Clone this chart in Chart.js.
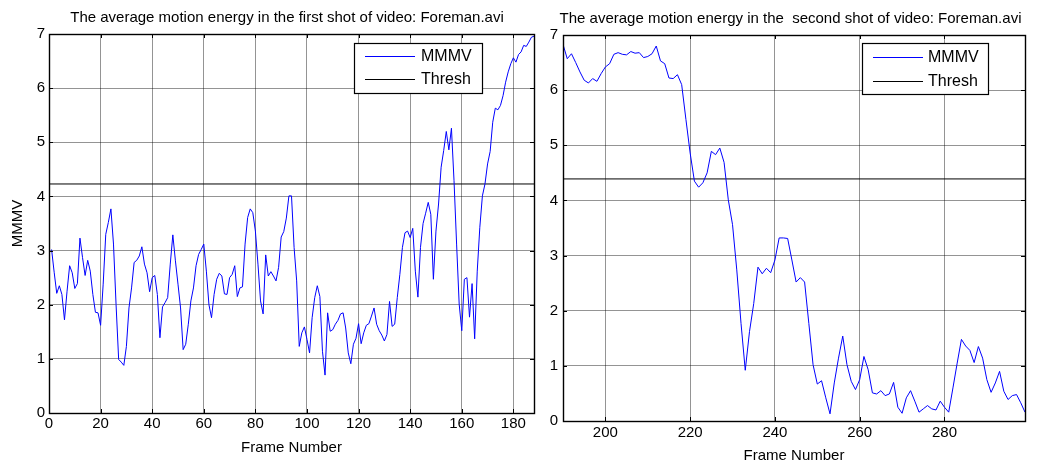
<!DOCTYPE html>
<html>
<head>
<meta charset="utf-8">
<script src="https://cdn.jsdelivr.net/npm/chart.js@4.4.0/dist/chart.umd.min.js"></script>
<style>
  html, body { margin: 0; padding: 0; background: #fff; }
  #wrap { position: relative; width: 1043px; height: 465px; overflow: hidden; }
  canvas { position: absolute; top: 0; }
  #shot1 { left: 0; }
  #shot2 { left: 540px; }
</style>
</head>
<body>
<div id="wrap">
  <canvas id="shot1" width="540" height="465"></canvas>
  <canvas id="shot2" width="503" height="465"></canvas>
</div>
<script>
// ---- first shot: frames 1..188 ----
const shot1Title = 'The average motion energy in the first shot of video: Foreman.avi';
const shot1FirstFrame = 1;
const shot1Mmmv = [
  3.02, 2.60, 2.21, 2.35, 2.19, 1.72, 2.25, 2.72, 2.59, 2.30,
  2.39, 3.23, 2.87, 2.54, 2.82, 2.62, 2.19, 1.86, 1.85, 1.62,
  2.38, 3.30, 3.52, 3.77, 3.12, 2.00, 0.99, 0.94, 0.88, 1.23,
  1.94, 2.31, 2.78, 2.82, 2.90, 3.07, 2.75, 2.59, 2.24, 2.50,
  2.54, 2.19, 1.39, 1.96, 2.04, 2.13, 2.75, 3.29, 2.81, 2.38,
  1.94, 1.17, 1.27, 1.64, 2.07, 2.31, 2.72, 2.93, 3.02, 3.12,
  2.62, 2.00, 1.76, 2.19, 2.47, 2.58, 2.53, 2.20, 2.19, 2.50,
  2.56, 2.72, 2.15, 2.31, 2.33, 3.12, 3.61, 3.77, 3.70, 3.36,
  2.75, 2.07, 1.83, 2.92, 2.53, 2.61, 2.53, 2.44, 2.69, 3.25,
  3.35, 3.60, 4.01, 4.01, 3.06, 2.44, 1.23, 1.48, 1.59, 1.36,
  1.11, 1.76, 2.13, 2.35, 2.15, 1.14, 0.70, 1.85, 1.51, 1.54,
  1.64, 1.71, 1.83, 1.85, 1.57, 1.11, 0.91, 1.27, 1.38, 1.65,
  1.28, 1.48, 1.62, 1.65, 1.79, 1.94, 1.64, 1.52, 1.44, 1.33,
  1.45, 2.06, 1.60, 1.64, 2.13, 2.56, 3.06, 3.33, 3.36, 3.24,
  3.41, 2.62, 2.14, 3.06, 3.50, 3.69, 3.89, 3.67, 2.47, 3.36,
  3.86, 4.54, 4.85, 5.20, 4.86, 5.26, 4.29, 3.12, 2.01, 1.52,
  2.47, 2.50, 1.77, 2.39, 1.37, 2.62, 3.43, 4.01, 4.23, 4.60,
  4.83, 5.37, 5.63, 5.60, 5.68, 5.86, 6.11, 6.30, 6.45, 6.56,
  6.48, 6.62, 6.67, 6.79, 6.77, 6.85, 6.94, 6.96
];
const shot1Thresh = 4.23;
const shot1XRange = [0, 188];
const shot1XTicks = [0, 20, 40, 60, 80, 100, 120, 140, 160, 180];

// ---- second shot: frames 190..299 ----
const shot2Title = 'The average motion energy in the  second shot of video: Foreman.avi';
const shot2FirstFrame = 190;
const shot2Mmmv = [
  6.83, 6.57, 6.66, 6.50, 6.33, 6.18, 6.13, 6.21, 6.16, 6.30,
  6.42, 6.48, 6.65, 6.68, 6.65, 6.64, 6.70, 6.67, 6.68, 6.59,
  6.61, 6.66, 6.80, 6.53, 6.48, 6.22, 6.21, 6.28, 6.10, 5.47,
  4.86, 4.35, 4.24, 4.32, 4.50, 4.89, 4.83, 4.95, 4.69, 4.01,
  3.56, 2.74, 1.77, 0.92, 1.62, 2.13, 2.79, 2.67, 2.77, 2.69,
  2.92, 3.32, 3.32, 3.31, 2.92, 2.52, 2.60, 2.52, 1.77, 1.02,
  0.67, 0.73, 0.42, 0.13, 0.69, 1.14, 1.54, 1.02, 0.72, 0.57,
  0.75, 1.17, 0.93, 0.51, 0.49, 0.55, 0.46, 0.49, 0.70, 0.25,
  0.14, 0.42, 0.55, 0.36, 0.16, 0.22, 0.28, 0.22, 0.20, 0.36,
  0.25, 0.16, 0.60, 1.05, 1.48, 1.36, 1.28, 1.06, 1.35, 1.14,
  0.75, 0.52, 0.69, 0.90, 0.54, 0.39, 0.46, 0.48, 0.33, 0.16
];
const shot2Thresh = 4.39;
const shot2XRange = [190, 299];
const shot2XTicks = [200, 220, 240, 260, 280];

const yTicks = [0, 1, 2, 3, 4, 5, 6, 7];
const yRange = [0, 7];
const seriesNames = ['MMMV', 'Thresh'];

const FONT = '"Liberation Sans", Arial, Helvetica, sans-serif';
const GRID = 'rgba(0,0,0,0.42)';

// box, inward tick marks, boxed legend and title, MATLAB style
const framePlugin = {
  id: 'frame',
  afterDatasetsDraw(chart, args, o) {
    const { ctx, chartArea: a, scales: { x, y } } = chart;
    ctx.save();
    ctx.strokeStyle = '#000';
    ctx.lineWidth = 1;
    ctx.beginPath();
    x.ticks.forEach(t => {
      const px = Math.round(x.getPixelForValue(t.value)) + 0.5;
      ctx.moveTo(px, a.bottom); ctx.lineTo(px, a.bottom - o.tick);
      ctx.moveTo(px, a.top); ctx.lineTo(px, a.top + o.tick);
    });
    y.ticks.forEach(t => {
      const py = Math.round(y.getPixelForValue(t.value)) + 0.5;
      ctx.moveTo(a.left, py); ctx.lineTo(a.left + o.tick, py);
      ctx.moveTo(a.right, py); ctx.lineTo(a.right - o.tick, py);
    });
    ctx.stroke();
    ctx.lineWidth = 1.4;
    ctx.strokeRect(Math.round(a.left) + 0.5, Math.round(a.top) + 0.5,
                   Math.round(a.right - a.left), Math.round(a.bottom - a.top));

    // legend
    const L = o.legend;
    ctx.fillStyle = '#fff';
    ctx.fillRect(L.x, L.y, L.w, L.h);
    ctx.lineWidth = 1.2;
    ctx.strokeStyle = '#000';
    ctx.strokeRect(L.x + 0.5, L.y + 0.5, L.w, L.h);
    ctx.font = '16px ' + FONT;
    ctx.textBaseline = 'middle';
    ctx.textAlign = 'left';
    chart.data.datasets.forEach((ds, i) => {
      const ry = L.y + L.rows[i];
      ctx.strokeStyle = ds.borderColor;
      ctx.lineWidth = 1;
      ctx.beginPath();
      ctx.moveTo(L.x + L.lineFrom, ry + 0.5);
      ctx.lineTo(L.x + L.lineTo, ry + 0.5);
      ctx.stroke();
      ctx.fillStyle = '#000';
      ctx.fillText(ds.label, L.x + L.textX, ry + 1);
    });

    // title
    ctx.font = '15px ' + FONT;
    ctx.textAlign = 'center';
    ctx.textBaseline = 'alphabetic';
    ctx.fillStyle = '#000';
    ctx.fillText(o.title, o.titleX, o.titleY);
    ctx.restore();
  }
};

function makeChart(id, cfg) {
  const mmmvPts = cfg.values.map((v, i) => ({ x: cfg.first + i, y: v }));
  const threshPts = cfg.xRange.map(f => ({ x: f, y: cfg.thresh }));
  return new Chart(document.getElementById(id), {
    type: 'line',
    data: {
      datasets: [
        { label: seriesNames[0], data: mmmvPts, borderColor: '#0000ff', borderWidth: 1,
          pointRadius: 0, tension: 0, fill: false },
        { label: seriesNames[1], data: threshPts, borderColor: '#000000', borderWidth: 1,
          pointRadius: 0, tension: 0, fill: false }
      ]
    },
    options: {
      responsive: false,
      animation: false,
      devicePixelRatio: 1,
      layout: { padding: cfg.padding },
      plugins: {
        legend: { display: false },
        tooltip: { enabled: false },
        title: { display: false },
        frame: cfg.frame
      },
      scales: {
        x: {
          type: 'linear',
          min: cfg.xRange[0], max: cfg.xRange[1],
          afterBuildTicks: s => { s.ticks = cfg.xTicks.map(v => ({ value: v })); },
          afterFit: s => { s.height = cfg.xAxisHeight; },
          grid: { color: GRID, lineWidth: 1, drawTicks: false },
          border: { display: false },
          ticks: { color: '#000', font: { family: FONT, size: 15 }, padding: cfg.xTickPad,
                   autoSkip: false, maxRotation: 0 },
          title: { display: true, text: 'Frame Number', color: '#000',
                   font: { family: FONT, size: 15 }, padding: { top: 0, bottom: cfg.xTitlePad } }
        },
        y: {
          type: 'linear',
          min: yRange[0], max: yRange[1],
          afterBuildTicks: s => { s.ticks = yTicks.map(v => ({ value: v })); },
          afterFit: s => { s.width = cfg.yAxisWidth; },
          grid: { color: GRID, lineWidth: 1, drawTicks: false },
          border: { display: false },
          ticks: { color: '#000', font: { family: FONT, size: 15 }, padding: cfg.yTickPad },
          title: { display: cfg.yTitle, text: 'MMMV', color: '#000',
                   font: { family: FONT, size: 15 }, padding: { top: 9, bottom: 0 } }
        }
      }
    },
    plugins: [framePlugin]
  });
}

makeChart('shot1', {
  values: shot1Mmmv, first: shot1FirstFrame, thresh: shot1Thresh,
  xRange: shot1XRange, xTicks: shot1XTicks,
  padding: { left: 0, right: 6, top: 34, bottom: 0 },
  xAxisHeight: 52, yAxisWidth: 49, xTickPad: 2, xTitlePad: 8, yTickPad: 4, yTitle: true,
  frame: {
    tick: 4, title: shot1Title, titleX: 287, titleY: 21.5,
    legend: { x: 354, y: 43, w: 128, h: 50, rows: [13, 36], lineFrom: 11, lineTo: 61, textX: 67 }
  }
});

makeChart('shot2', {
  values: shot2Mmmv, first: shot2FirstFrame, thresh: shot2Thresh,
  xRange: shot2XRange, xTicks: shot2XTicks,
  padding: { left: 0, right: 18, top: 35, bottom: 0 },
  xAxisHeight: 44, yAxisWidth: 23, xTickPad: 3, xTitlePad: 0, yTickPad: 5, yTitle: false,
  frame: {
    tick: 4, title: shot2Title, titleX: 250.5, titleY: 22.5,
    legend: { x: 322, y: 43, w: 126, h: 51, rows: [14, 38], lineFrom: 11, lineTo: 61, textX: 66 }
  }
});
</script>
</body>
</html>
